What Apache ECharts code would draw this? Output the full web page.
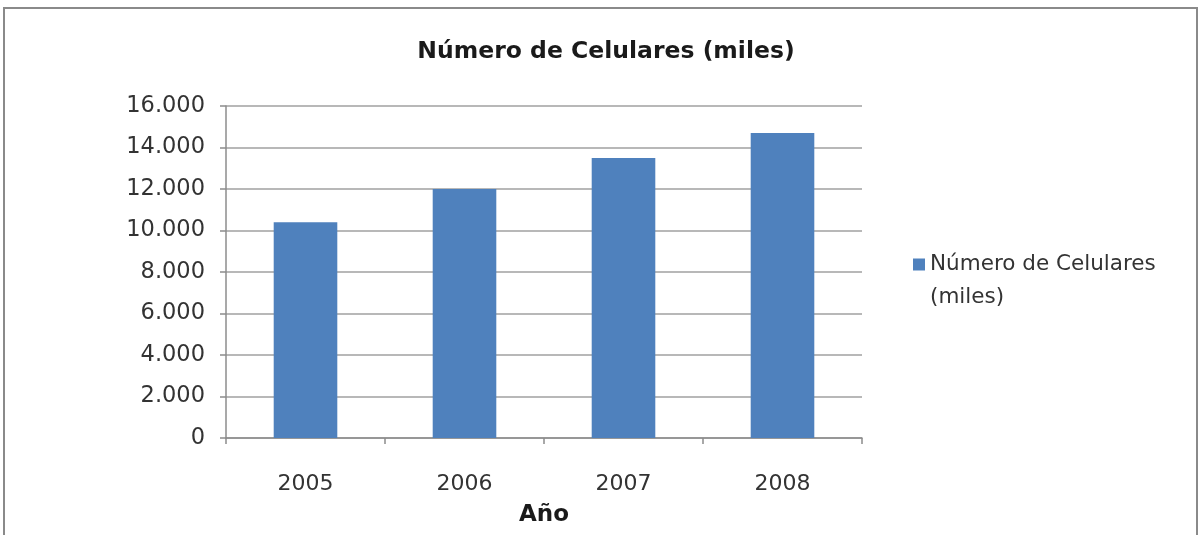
<!DOCTYPE html>
<html>
<head>
<meta charset="utf-8">
<script src="https://cdn.jsdelivr.net/npm/echarts@6/dist/echarts.min.js"></script>
<style>
html,body{margin:0;padding:0;background:#fff;}
#c{width:1202px;height:535px;}
</style>
</head>
<body>
<div id="c"></div>
<script>
const categories = ['2005', '2006', '2007', '2008'];
const values = [10400, 12000, 13500, 14700];
const yTicks = { min: 0, max: 16000, interval: 2000 };
const seriesName = 'Número de Celulares (miles)';
const legendLine1 = 'Número de Celulares';
const legendLine2 = '(miles)';
const chartTitle = 'Número de Celulares (miles)';
const xAxisName = 'Año';

const font = '"DejaVu Sans", sans-serif';
const chart = echarts.init(document.getElementById('c'), null, { renderer: 'canvas' });
chart.setOption({
  backgroundColor: '#ffffff',
  animation: false,
  title: {
    text: chartTitle,
    left: 601, top: 35,
    textAlign: 'center',
    textStyle: { fontFamily: font, fontSize: 23.5, fontWeight: 'bold', color: '#1a1a1a' }
  },
  legend: {
    orient: 'vertical',
    left: 913, top: 248, padding: 0,
    itemWidth: 12, itemHeight: 12,
    icon: 'rect',
    formatter: () => legendLine1,
    textStyle: { fontFamily: font, fontSize: 21.5, color: '#333', lineHeight: 33 },
    data: [seriesName]
  },
  grid: { left: 226, right: 340, top: 106, bottom: 97, containLabel: false, outerBoundsMode: 'none' },
  xAxis: {
    type: 'category',
    data: categories,
    name: xAxisName,
    nameLocation: 'middle',
    nameGap: 66,
    nameTextStyle: { fontFamily: font, fontSize: 23, fontWeight: 'bold', color: '#1a1a1a' },
    axisLine: { lineStyle: { color: '#8c8c8c', width: 1.5 } },
    axisTick: { show: true, alignWithLabel: false, length: 6, lineStyle: { color: '#8c8c8c', width: 1.5 } },
    axisLabel: { margin: 35, fontFamily: font, fontSize: 22, color: '#333' }
  },
  yAxis: {
    type: 'value',
    min: yTicks.min, max: yTicks.max, interval: yTicks.interval,
    axisLine: { show: true, lineStyle: { color: '#8c8c8c', width: 1.5 } },
    axisTick: { show: true, inside: false, length: 6, lineStyle: { color: '#8c8c8c', width: 1.5 } },
    splitLine: { show: true, lineStyle: { color: '#b8b8b8', width: 2 } },
    axisLabel: {
      margin: 21, fontFamily: font, fontSize: 22.5, color: '#333',
      formatter: v => String(v).replace(/\B(?=(\d{3})+(?!\d))/g, '.')
    }
  },
  series: [{
    name: seriesName,
    type: 'bar',
    data: values,
    barWidth: '40%',
    itemStyle: { color: '#4F81BD' }
  }],
  graphic: [{
    type: 'rect',
    shape: { x: 4, y: 8, width: 1193, height: 540 },
    style: { fill: 'none', stroke: '#8a8a8a', lineWidth: 2 },
    silent: true
  }, {
    type: 'text',
    left: 930, top: 286,
    style: { text: legendLine2, font: '21.5px "DejaVu Sans", sans-serif', fill: '#333' },
    silent: true
  }]
});
</script>
</body>
</html>
